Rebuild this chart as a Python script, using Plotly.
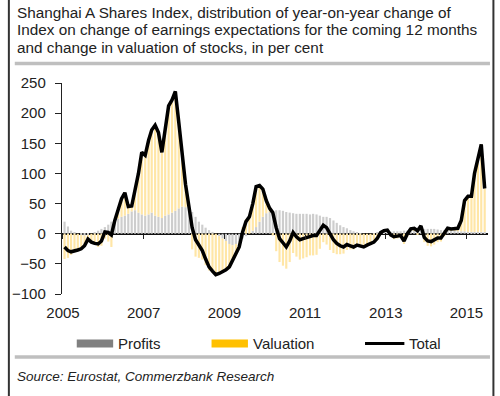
import pandas as pd
import plotly.graph_objects as go

# Monthly data, Jan 2005 - Jun 2015 (mid-month)
months = pd.date_range("2005-01-01", "2015-06-01", freq="MS") + pd.Timedelta(days=14)

total = [
    # 2005
    -22, -28, -30, -29, -27, -25, -20, -9, -14, -16, -17, -12,
    # 2006
    3, 2, -2, 22, 40, 58, 68, 45, 46, 70, 100, 135,
    # 2007
    130, 155, 172, 180, 168, 135, 170, 212, 222, 236, 185, 128,
    # 2008
    82, 45, 10, -10, -20, -28, -42, -55, -62, -68, -66, -63,
    # 2009
    -60, -55, -45, -32, -22, 3, 20, 28, 50, 78, 80, 74,
    # 2010
    55, 42, 35, 10, -8, -15, -22, -12, 2, -5, -10, -8,
    # 2011
    -6, -4, -3, -3, 5, 14, 10, -1, -10, -16, -20, -22,
    # 2012
    -18, -20, -22, -19, -21, -22, -19, -17, -14, -8, 2, 5,
    # 2013
    6, -2, -5, -4, -3, -12, 0, 8, 9, 5, 13, -6,
    # 2014
    -12, -13, -10, -7, -7, 2, 9, 8, 8, 9, 22, 55,
    # 2015
    62, 62, 100, 128, 148, 75,
]

profits = [
    # 2005
    20, 12, 5, 2, 0, -2, -3, -2, 0, 2, 5, 8,
    # 2006
    11, 15, 20, 22, 25, 28, 30, 33, 37, 39, 35, 32,
    # 2007
    30, 32, 35, 30, 28, 26, 30, 32, 35, 38, 42, 45,
    # 2008
    44, 40, 36, 28, 20, 15, 10, 6, 3, 0, -4, -8,
    # 2009
    -12, -17, -19, -17, -14, -8, -4, 0, 5, 11, 20, 28,
    # 2010
    34, 36, 38, 39, 39, 38, 36, 35, 34, 33, 33, 33,
    # 2011
    33, 32, 33, 32, 30, 28, 28, 26, 22, 18, 14, 11,
    # 2012
    9, 6, 4, 2, 1, 0, 0, 0, 1, 2, 2, 3,
    # 2013
    3, 3, 4, 4, 4, 5, 5, 6, 6, 7, 8, 8,
    # 2014
    8, 8, 8, 7, 6, 6, 5, 5, 5, 4, 4, 4,
    # 2015
    3, 3, 3, 3, 3, 3,
]

valuation = [t - p for t, p in zip(total, profits)]

y_ticks = [-100, -50, 0, 50, 100, 150, 200, 250]
legend_labels = ["Profits", "Valuation", "Total"]

title_lines = [
    "Shanghai A Shares Index, distribution of year-on-year change of",
    "Index on change of earnings expectations for the coming 12 months",
    "and change in valuation of stocks, in per cent",
]
source_text = "Source: Eurostat, Commerzbank Research"

# ---- layout geometry (pixels) ----
W, H = 500, 396
L, R, T, B = 55, 12, 83, 102
PW = W - L - R
PH = H - T - B


def px_x(p):
    return (p - L) / PW


def px_y(p):
    return (H - B - p) / PH


FONT = "Liberation Sans, Arial, sans-serif"

fig = go.Figure()
fig.add_trace(go.Bar(x=months, y=profits, name="Profits", marker_color="#CDCDCD",
                     marker_line_width=0, showlegend=False))
fig.add_trace(go.Bar(x=months, y=valuation, name="Valuation", marker_color="#FFE6A6",
                     marker_line_width=0, showlegend=False))
fig.add_trace(go.Scatter(x=months, y=total, name="Total", mode="lines",
                         line=dict(color="black", width=3.5), showlegend=False,
                         xaxis="x2"))

xr = ["2004-12-23", "2015-07-15"]
fig.update_layout(
    width=W, height=H,
    margin=dict(l=L, r=R, t=T, b=B),
    paper_bgcolor="white", plot_bgcolor="white",
    barmode="relative", bargap=0.3,
    font=dict(family=FONT, color="#222"),
    xaxis=dict(range=xr, type="date", tick0="2005-01-01", dtick="M24", tickformat="%Y",
               showgrid=False, zeroline=False, showline=False, ticks="",
               tickfont=dict(size=15, color="#222"), ticklabelstandoff=8),
    xaxis2=dict(range=xr, type="date", matches="x", overlaying="x", anchor="free",
                position=100 / 350, tick0="2005-01-01", dtick="M24",
                showticklabels=False, ticks="outside", ticklen=4, tickwidth=1.2,
                tickcolor="#222", showgrid=False, zeroline=False, showline=False),
    yaxis=dict(range=[-100, 250], tickvals=y_ticks, showgrid=False,
               zeroline=True, zerolinecolor="#111", zerolinewidth=1.6,
               showline=True, linecolor="#222", linewidth=1.4,
               ticks="outside", ticklen=6, tickwidth=1.4, tickcolor="#222",
               tickfont=dict(size=15, color="#222"), ticklabelstandoff=6,
               layer="above traces"),
)

shapes = []
annots = []
# title lines
for i, line in enumerate(title_lines):
    annots.append(dict(text=line, xref="paper", yref="paper", x=px_x(7),
                       y=px_y(12 + i * 17.5), xanchor="left", yanchor="middle",
                       showarrow=False, font=dict(size=15.3, color="#222", family=FONT)))
# gray rules
for yy in (63.5, 357):
    shapes.append(dict(type="line", xref="paper", yref="paper", x0=px_x(7), x1=px_x(490),
                       y0=px_y(yy), y1=px_y(yy), line=dict(color="#BFBFBF", width=3.5)))
# frame borders
for xx in (1, 493.5):
    shapes.append(dict(type="line", xref="paper", yref="paper", x0=px_x(xx), x1=px_x(xx),
                       y0=px_y(0), y1=px_y(H), line=dict(color="#333", width=2)))
# legend
leg_y = 343.5
leg_items = [(70, 107, "#808080", "rect"), (207, 244, "#FFC000", "rect"), (363, 403, "black", "line")]
for (x0, x1, col, kind), lab in zip(leg_items, legend_labels):
    if kind == "rect":
        shapes.append(dict(type="rect", xref="paper", yref="paper", x0=px_x(x0), x1=px_x(x1),
                           y0=px_y(leg_y + 4), y1=px_y(leg_y - 4), fillcolor=col,
                           line=dict(width=0)))
    else:
        shapes.append(dict(type="line", xref="paper", yref="paper", x0=px_x(x0), x1=px_x(x1),
                           y0=px_y(leg_y), y1=px_y(leg_y), line=dict(color=col, width=3)))
    annots.append(dict(text=lab, xref="paper", yref="paper", x=px_x(x1 + 3), y=px_y(leg_y),
                       xanchor="left", yanchor="middle", showarrow=False,
                       font=dict(size=15, color="#222", family=FONT)))
# source
annots.append(dict(text="<i>" + source_text + "</i>", xref="paper", yref="paper", x=px_x(7),
                   y=px_y(376), xanchor="left", yanchor="middle", showarrow=False,
                   font=dict(size=13.5, color="#222", family=FONT)))

fig.update_layout(shapes=shapes, annotations=annots)
fig.write_html("out.html", config={"displayModeBar": False},
               post_script="document.body.style.margin='0';document.body.style.padding='0';")
